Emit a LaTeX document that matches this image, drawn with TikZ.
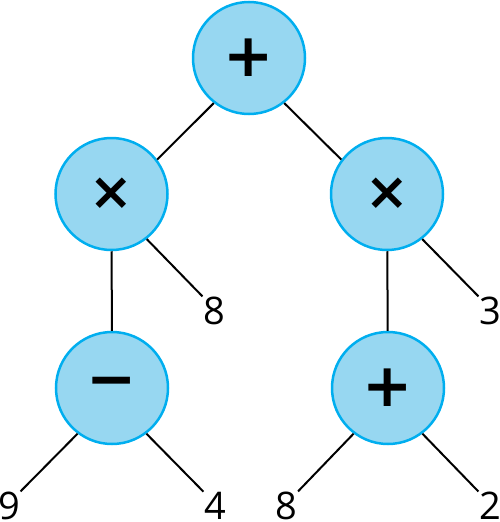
\documentclass[tikz,border=0pt]{standalone}
\usepackage{fontspec}
\setmainfont{Open Sans}
\newfontfamily\opfont{DejaVu Sans}
\definecolor{opline}{RGB}{0,174,239}
\definecolor{opfill}{RGB}{151,215,241}
\begin{document}
\begin{tikzpicture}[x=1pt,y=-1pt,
op/.style={circle,draw=opline,fill=opfill,line width=2.5pt,minimum size=112pt,inner sep=0pt,font=\opfont\bfseries\fontsize{60}{60}\selectfont},
small op/.style={op,font=\opfont\bfseries\fontsize{52}{52}\selectfont},
leaf/.style={inner sep=0.5pt,font=\fontsize{38}{38}\selectfont},
edge/.style={line width=2pt}]
\useasboundingbox (0,0) rectangle (500,522);
\draw (249,58) node (plus1) [op] {+};
\draw (111.5,194) node (times1) [small op] {×};
\draw (387,194) node (times2) [small op] {×};
\draw (112,388) node (minus1) [op] {−};
\draw (388,388) node (plus2) [op] {+};
\draw (214,311) node (n8a) [leaf] {8};
\draw (490,311) node (n3) [leaf] {3};
\draw (9,506) node (n9) [leaf] {9};
\draw (215,506) node (n4) [leaf] {4};
\draw (286.5,506) node (n8b) [leaf] {8};
\draw (490,506) node (n2) [leaf] {2};
\draw[edge] (plus1.232) -- (times1.37);
\draw[edge] (plus1.308) -- (times2.143);
\draw[edge] (times1) -- (minus1);
\draw[edge] (times1.308) -- (n8a.north west);
\draw[edge] (times2) -- (plus2);
\draw[edge] (times2.308) -- (n3.north west);
\draw[edge] (minus1.233) -- (n9.north east);
\draw[edge] (minus1.307) -- (n4.north west);
\draw[edge] (plus2.233) -- (n8b.north east);
\draw[edge] (plus2.307) -- (n2.north west);
\end{tikzpicture}
\end{document}
